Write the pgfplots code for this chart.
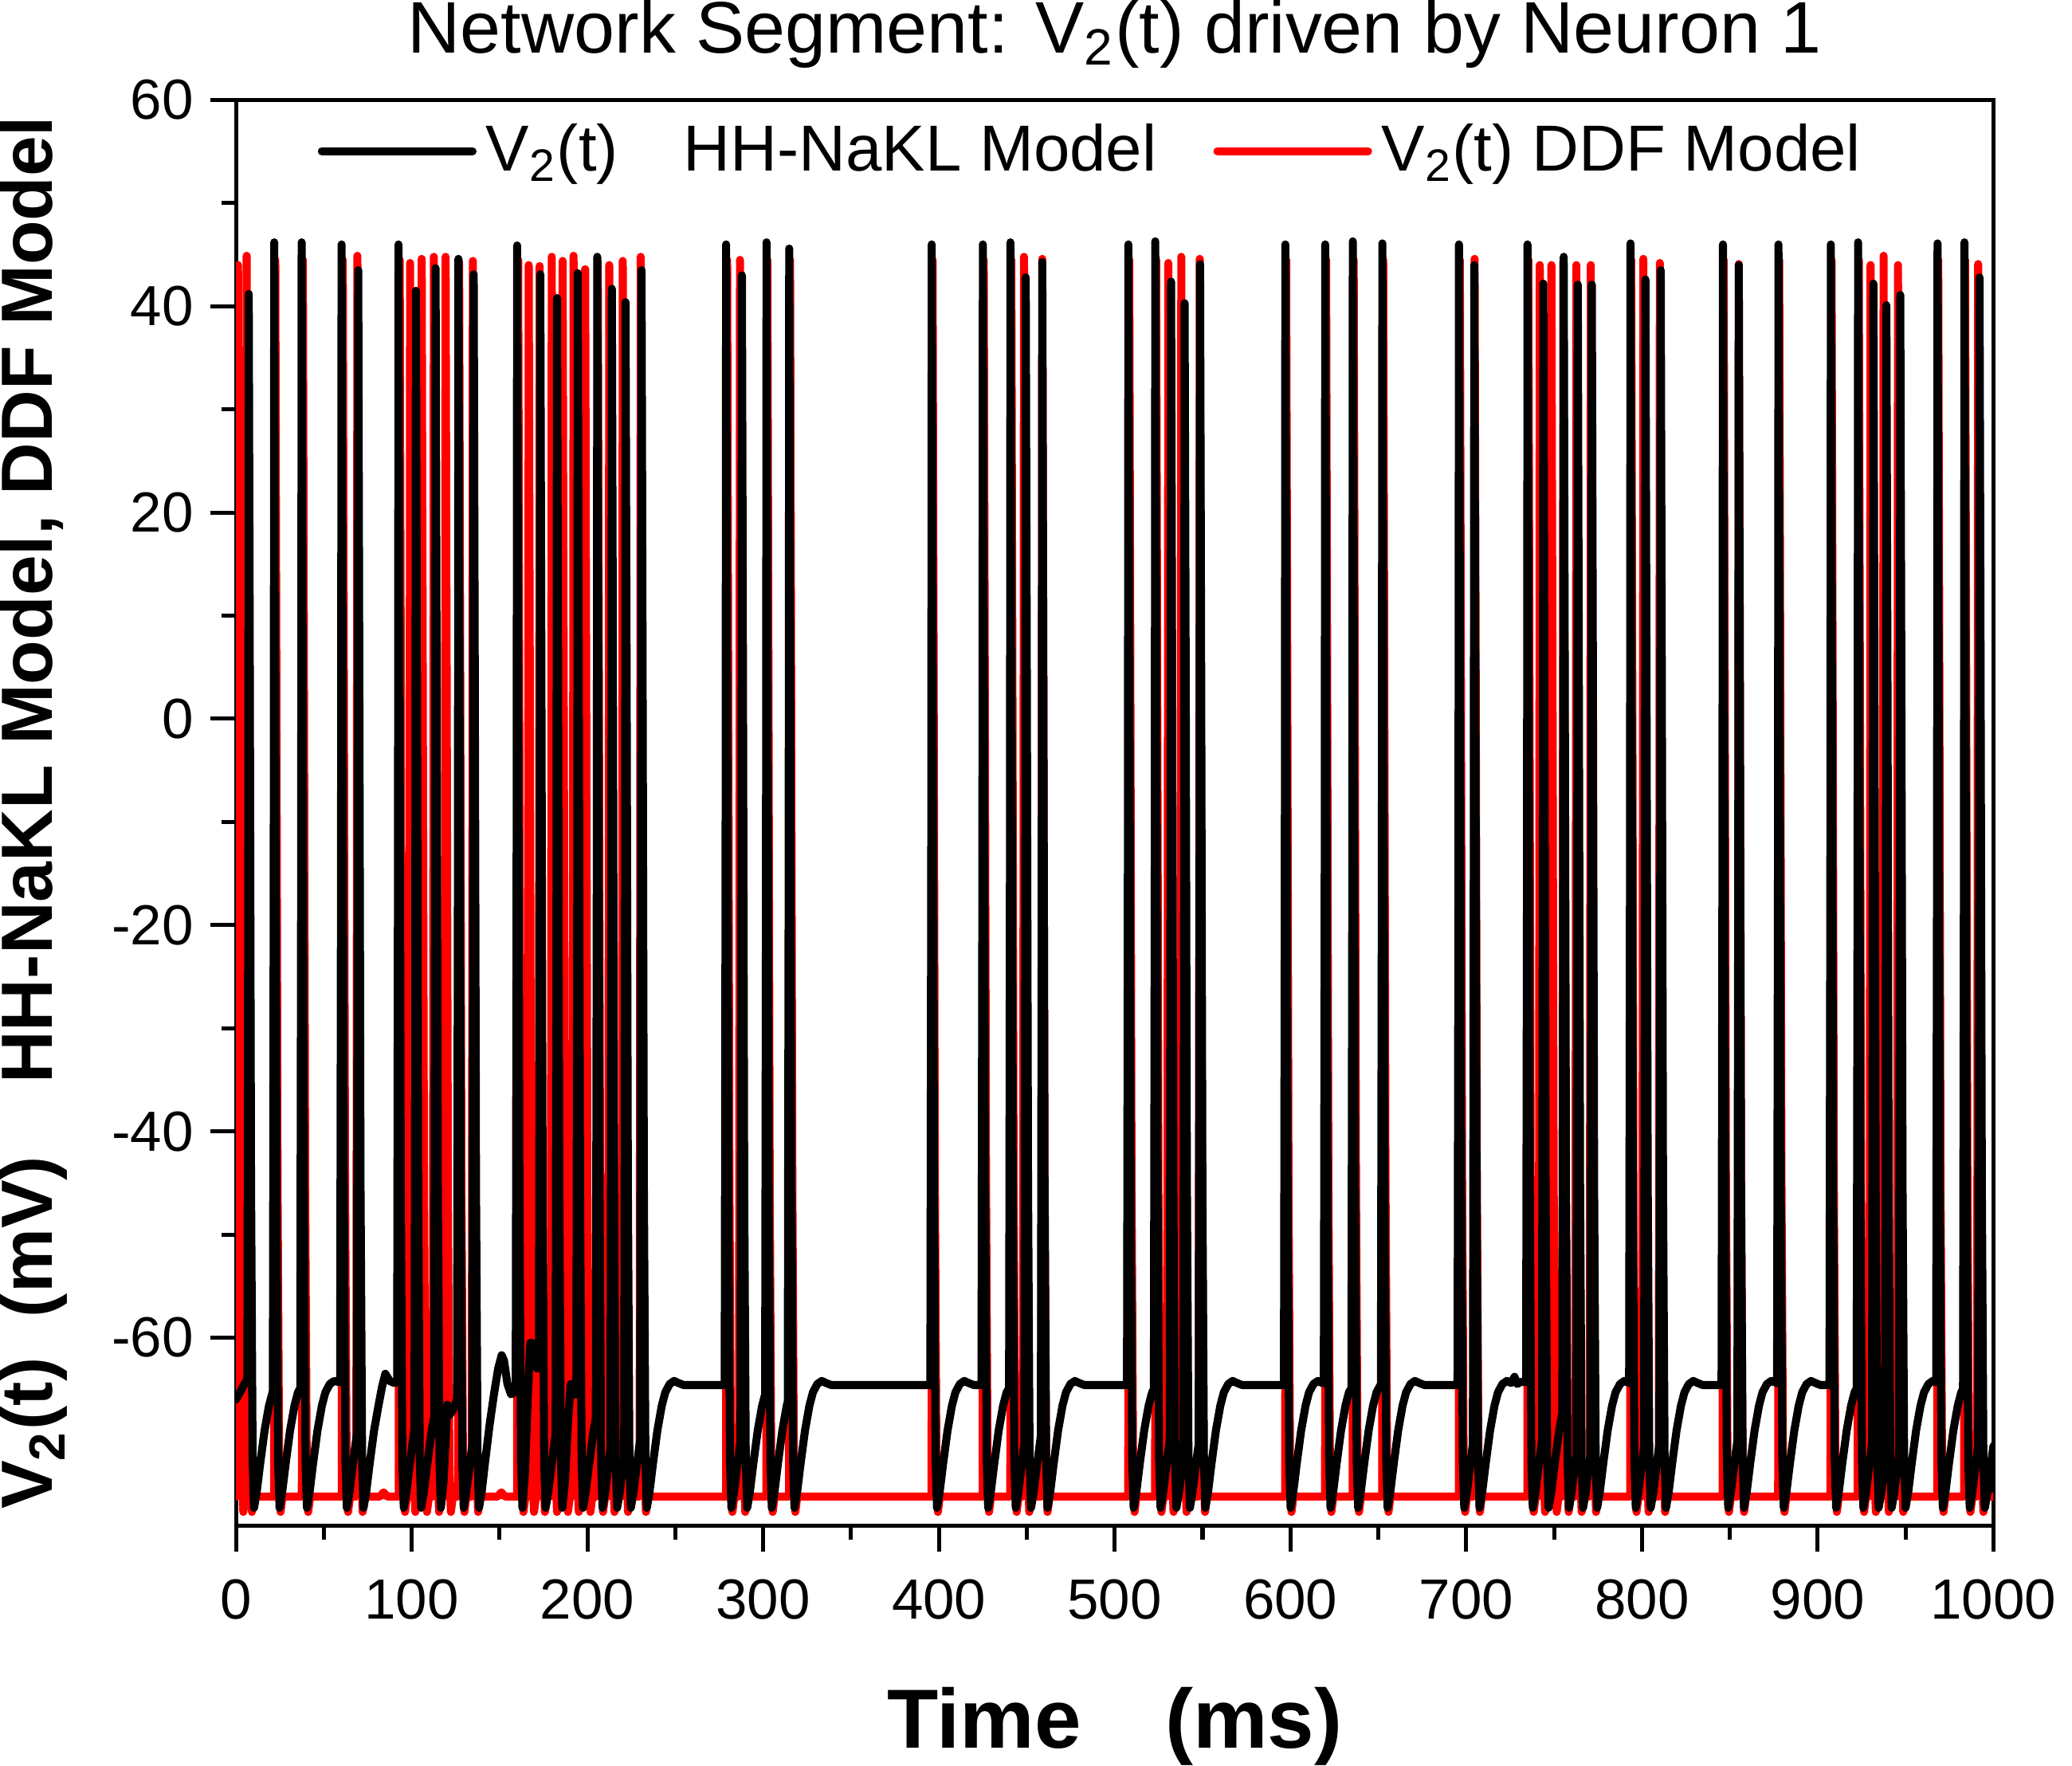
\documentclass[border=0pt]{standalone}
\usepackage{fontspec}
\setmainfont{Liberation Sans}
\usepackage{pgfplots}
\pgfplotsset{compat=1.18}
\begin{document}
\begin{tikzpicture}
\begin{axis}[
  scale only axis, width=373pt, height=302.5pt,
  xmin=0, xmax=1000, ymin=-78.2, ymax=60,
  xtick={0,100,...,1000}, minor x tick num=1,
  ytick={-60,-40,...,60}, minor y tick num=1,
  tick align=outside, xtick pos=bottom, ytick pos=left,
  major tick length=5.5pt, minor tick length=3pt,
  every tick/.style={line width=0.85pt, black},
  axis line style={line width=0.85pt},
  ticklabel style={font=\fontsize{12}{14}\selectfont},
  /pgf/number format/assume math mode=true,
  /pgf/number format/set thousands separator={},
  xticklabel shift=2.5pt,
  title={Network Segment: V\textsubscript{2}(t) driven by Neuron 1},
  title style={font=\fontsize{15.5}{18}\selectfont, at={(axis description cs:0.5,1.0463)}, anchor=center, yshift=-6pt, inner sep=0pt},
  xlabel={\textbf{Time\quad(ms)}},
  xlabel style={font=\fontsize{17.8}{20}\selectfont\bfseries, at={(axis description cs:0.5,-0.141)}, anchor=center, inner sep=0pt},
  ylabel={\textbf{V\textsubscript{2}(t)\ \ (mV)\hspace{1em}HH-NaKL Model, DDF Model}},
  ylabel style={font=\fontsize{15.4}{18}\selectfont\bfseries, at={(axis description cs:-0.115,0.5)}, anchor=center, inner sep=0pt},
  legend style={draw=none, fill=none, at={(axis description cs:0.038,0.997)}, anchor=north west,
     font=\fontsize{13.8}{16}\selectfont, /tikz/every even column/.append style={column sep=10pt}},
  legend columns=2, legend cell align=left,
  legend image code/.code={\draw[#1] (0pt,0pt) -- (32pt,0pt);},
  every axis plot/.append style={line join=round, line cap=round},
]
\addlegendimage{black, line width=1.7pt}
\addlegendentry{V\textsubscript{2}(t)\quad HH-NaKL Model}
\addlegendimage{red, line width=1.7pt}
\addlegendentry{V\textsubscript{2}(t) DDF Model}

% DDF model (red)
\addplot[red, line width=1.7pt, forget plot] coordinates {
(0,-75.4)(0.6,-75.4)(0.9,-20)(1.2,44)(1.8,5)(2.5,-45)(3.4,-73)(4.2,-76.9)(4.8,-75.8)(5.5,-75.4)
(5.8,-20)(6.1,44.9)(6.7,5)(7.4,-45)(8.3,-73)(9.1,-76.9)(9.9,-75.8)(10.7,-75.4)
(21.8,-75.4)(22.1,-20)(22.4,44.5)(23,5)(23.7,-45)(24.6,-73)(25.4,-76.9)(26.2,-75.8)(27,-75.4)
(37.5,-75.4)(37.8,-20)(38.1,44.5)(38.7,5)(39.4,-45)(40.3,-73)(41.1,-76.9)(41.9,-75.8)(42.7,-75.4)
(60.2,-75.4)(60.5,-20)(60.8,44.5)(61.4,5)(62.1,-45)(63,-73)(63.8,-76.9)(64.6,-75.8)(65.4,-75.4)
(68.5,-75.4)(68.8,-20)(69.1,44.9)(69.7,5)(70.4,-45)(71.3,-73)(72.1,-76.9)(72.9,-75.8)(73.7,-75.4)
(82,-75.4)(84,-75.0)(86,-75.4)
(92.6,-75.4)(92.9,-20)(93.2,44.5)(93.8,5)(94.5,-45)(95.4,-73)(96.2,-76.9)(97,-75.8)(97.8,-75.4)
(98.5,-75.4)(98.8,-20)(99.1,44.2)(99.7,5)(100.4,-45)(101.3,-73)(102.1,-76.9)(102.9,-75.8)(103.7,-75.4)(105.1,-75.4)
(105.4,-20)(105.7,44.6)(106.3,5)(107,-45)(107.9,-73)(108.7,-76.9)(109.5,-75.8)(110.3,-75.4)
(112,-75.4)(112.3,-20)(112.6,44.8)(113.2,5)(113.9,-45)(114.8,-73)(115.6,-76.9)(116.4,-75.8)(117.2,-75.4)
(118.7,-75.4)(119,-20)(119.3,44.8)(119.9,5)(120.6,-45)(121.5,-73)(122.3,-76.9)(123.1,-75.8)(123.9,-75.4)
(126.4,-75.4)(126.7,-20)(127,44.3)(127.6,5)(128.3,-45)(129.2,-73)(130,-76.9)(130.8,-75.8)(131.6,-75.4)
(134.2,-75.4)(134.5,-20)(134.8,44.4)(135.4,5)(136.1,-45)(137,-73)(137.8,-76.9)(138.6,-75.8)(139.4,-75.4)
(149,-75.4)(151,-75.0)(153,-75.4)
(160,-75.4)(160.3,-20)(160.6,44.5)(161.2,5)(161.9,-45)(162.8,-73)(163.6,-76.9)(164.4,-75.8)(165.2,-75.4)
(166,-75.4)(166.3,-20)(166.6,44)(167.2,5)(167.9,-45)(168.8,-73)(169.6,-76.9)(170.4,-75.8)(171.2,-75.4)
(172.2,-75.4)(172.5,-20)(172.8,43.9)(173.4,5)(174.1,-45)(175,-73)(175.8,-76.9)(176.6,-75.8)(177.4,-75.4)
(179.1,-75.4)(179.4,-20)(179.7,44.8)(180.3,5)(181,-45)(181.9,-73)(182.7,-76.9)(183.5,-75.8)(184.3,-75.4)
(185.3,-75.4)(185.6,-20)(185.9,44.4)(186.5,5)(187.2,-45)(188.1,-73)(188.9,-76.9)(189.7,-75.8)(190.5,-75.4)
(191.5,-75.4)(191.8,-20)(192.1,44.9)(192.7,5)(193.4,-45)(194.3,-73)(195.1,-76.9)(195.9,-75.8)(196.7,-75.4)
(198.1,-75.4)(198.4,-20)(198.7,43.6)(199.3,5)(200,-45)(200.9,-73)(201.7,-76.9)(202.5,-75.8)(203.3,-75.4)
(205.3,-75.4)(205.6,-20)(205.9,44.3)(206.5,5)(207.2,-45)(208.1,-73)(208.9,-76.9)(209.7,-75.8)(210.5,-75.4)
(211.8,-75.4)(212.1,-20)(212.4,44)(213,5)(213.7,-45)(214.6,-73)(215.4,-76.9)(216.2,-75.8)(217,-75.4)
(219.5,-75.4)(219.8,-20)(220.1,44.4)(220.7,5)(221.4,-45)(222.3,-73)(223.1,-76.9)(223.9,-75.8)(224.7,-75.4)
(229.7,-75.4)(230,-20)(230.3,44.8)(230.9,5)(231.6,-45)(232.5,-73)(233.3,-76.9)(234.1,-75.8)(234.9,-75.4)
(278.9,-75.4)(279.2,-20)(279.5,44.5)(280.1,5)(280.8,-45)(281.7,-73)(282.5,-76.9)(283.3,-75.8)(284.1,-75.4)
(286.2,-75.4)(286.5,-20)(286.8,44.5)(287.4,5)(288.1,-45)(289,-73)(289.8,-76.9)(290.6,-75.8)(291.4,-75.4)
(301.8,-75.4)(302.1,-20)(302.4,44.5)(303,5)(303.7,-45)(304.6,-73)(305.4,-76.9)(306.2,-75.8)(307,-75.4)
(314.7,-75.4)(315,-20)(315.3,44.5)(315.9,5)(316.6,-45)(317.5,-73)(318.3,-76.9)(319.1,-75.8)(319.9,-75.4)
(395.8,-75.4)(396.1,-20)(396.4,44.5)(397,5)(397.7,-45)(398.6,-73)(399.4,-76.9)(400.2,-75.8)(401,-75.4)
(424.9,-75.4)(425.2,-20)(425.5,44.5)(426.1,5)(426.8,-45)(427.7,-73)(428.5,-76.9)(429.3,-75.8)(430.1,-75.4)
(440.6,-75.4)(440.9,-20)(441.2,44.5)(441.8,5)(442.5,-45)(443.4,-73)(444.2,-76.9)(445,-75.8)(445.8,-75.4)
(447.8,-75.4)(448.1,-20)(448.4,44.8)(449,5)(449.7,-45)(450.6,-73)(451.4,-76.9)(452.2,-75.8)(453,-75.4)
(458.2,-75.4)(458.5,-20)(458.8,44.6)(459.4,5)(460.1,-45)(461,-73)(461.8,-76.9)(462.6,-75.8)(463.4,-75.4)
(507.7,-75.4)(508,-20)(508.3,44.5)(508.9,5)(509.6,-45)(510.5,-73)(511.3,-76.9)(512.1,-75.8)(512.9,-75.4)
(523,-75.4)(523.3,-20)(523.6,44.5)(524.2,5)(524.9,-45)(525.8,-73)(526.6,-76.9)(527.4,-75.8)(528.2,-75.4)
(529.9,-75.4)(530.2,-20)(530.5,44.2)(531.1,5)(531.8,-45)(532.7,-73)(533.5,-76.9)(534.3,-75.8)(535.1,-75.4)
(537.3,-75.4)(537.6,-20)(537.9,44.8)(538.5,5)(539.2,-45)(540.1,-73)(540.9,-76.9)(541.7,-75.8)(542.5,-75.4)
(547.8,-75.4)(548.1,-20)(548.4,44.6)(549,5)(549.7,-45)(550.6,-73)(551.4,-76.9)(552.2,-75.8)(553,-75.4)
(597,-75.4)(597.3,-20)(597.6,44.5)(598.2,5)(598.9,-45)(599.8,-73)(600.6,-76.9)(601.4,-75.8)(602.2,-75.4)
(619.7,-75.4)(620,-20)(620.3,44.5)(620.9,5)(621.6,-45)(622.5,-73)(623.3,-76.9)(624.1,-75.8)(624.9,-75.4)
(635.4,-75.4)(635.7,-20)(636,44.5)(636.6,5)(637.3,-45)(638.2,-73)(639,-76.9)(639.8,-75.8)(640.6,-75.4)
(652.2,-75.4)(652.5,-20)(652.8,44.5)(653.4,5)(654.1,-45)(655,-73)(655.8,-76.9)(656.6,-75.8)(657.4,-75.4)
(695.8,-75.4)(696.1,-20)(696.4,44.5)(697,5)(697.7,-45)(698.6,-73)(699.4,-76.9)(700.2,-75.8)(701,-75.4)
(704.2,-75.4)(704.5,-20)(704.8,44.6)(705.4,5)(706.1,-45)(707,-73)(707.8,-76.9)(708.6,-75.8)(709.4,-75.4)
(734.8,-75.4)(735.1,-20)(735.4,44.5)(736,5)(736.7,-45)(737.6,-73)(738.4,-76.9)(739.2,-75.8)(740,-75.4)
(741.3,-75.4)(741.6,-20)(741.9,44)(742.5,5)(743.2,-45)(744.1,-73)(744.9,-76.9)(745.7,-75.8)(746.5,-75.4)
(747.9,-75.4)(748.2,-20)(748.5,44)(749.1,5)(749.8,-45)(750.7,-73)(751.5,-76.9)(752.3,-75.8)(753.1,-75.4)
(754.7,-75.4)(755,-20)(755.3,44.3)(755.9,5)(756.6,-45)(757.5,-73)(758.3,-76.9)(759.1,-75.8)(759.9,-75.4)
(762.1,-75.4)(762.4,-20)(762.7,44)(763.3,5)(764,-45)(764.9,-73)(765.7,-76.9)(766.5,-75.8)(767.3,-75.4)
(770.3,-75.4)(770.6,-20)(770.9,44)(771.5,5)(772.2,-45)(773.1,-73)(773.9,-76.9)(774.7,-75.8)(775.5,-75.4)
(793.3,-75.4)(793.6,-20)(793.9,44.5)(794.5,5)(795.2,-45)(796.1,-73)(796.9,-76.9)(797.7,-75.8)(798.5,-75.4)
(800.2,-75.4)(800.5,-20)(800.8,44.6)(801.4,5)(802.1,-45)(803,-73)(803.8,-76.9)(804.6,-75.8)(805.4,-75.4)
(809.6,-75.4)(809.9,-20)(810.2,44.2)(810.8,5)(811.5,-45)(812.4,-73)(813.2,-76.9)(814,-75.8)(814.8,-75.4)
(845.9,-75.4)(846.2,-20)(846.5,44.5)(847.1,5)(847.8,-45)(848.7,-73)(849.5,-76.9)(850.3,-75.8)(851.1,-75.4)
(854.5,-75.4)(854.8,-20)(855.1,44.1)(855.7,5)(856.4,-45)(857.3,-73)(858.1,-76.9)(858.9,-75.8)(859.7,-75.4)
(877.5,-75.4)(877.8,-20)(878.1,44.5)(878.7,5)(879.4,-45)(880.3,-73)(881.1,-76.9)(881.9,-75.8)(882.7,-75.4)
(907.3,-75.4)(907.6,-20)(907.9,44.5)(908.5,5)(909.2,-45)(910.1,-73)(910.9,-76.9)(911.7,-75.8)(912.5,-75.4)
(922.8,-75.4)(923.1,-20)(923.4,44.5)(924,5)(924.7,-45)(925.6,-73)(926.4,-76.9)(927.2,-75.8)(928,-75.4)
(929.5,-75.4)(929.8,-20)(930.1,44)(930.7,5)(931.4,-45)(932.3,-73)(933.1,-76.9)(933.9,-75.8)(934.7,-75.4)
(936.9,-75.4)(937.2,-20)(937.5,44.9)(938.1,5)(938.8,-45)(939.7,-73)(940.5,-76.9)(941.3,-75.8)(942.1,-75.4)
(945.1,-75.4)(945.4,-20)(945.7,44)(946.3,5)(947,-45)(947.9,-73)(948.7,-76.9)(949.5,-75.8)(950.3,-75.4)
(968,-75.4)(968.3,-20)(968.6,44.5)(969.2,5)(969.9,-45)(970.8,-73)(971.6,-76.9)(972.4,-75.8)(973.2,-75.4)
(983.3,-75.4)(983.6,-20)(983.9,44.5)(984.5,5)(985.2,-45)(986.1,-73)(986.9,-76.9)(987.7,-75.8)(988.5,-75.4)
(990.7,-75.4)(991,-20)(991.3,44.1)(991.9,5)(992.6,-45)(993.5,-73)(994.3,-76.9)(995.1,-75.8)(995.9,-75.4)
(1000,-75.4)
};

% HH-NaKL model (black)
\addplot[black, line width=1.7pt, forget plot] coordinates {
(0,-66)(6.5,-64)
(7.0,-15)(7.3,41.2)(7.9,5)(8.6,-45)(9.5,-72)(10.3,-76.5)
(11.8,-75)(13.8,-72.2)(16.3,-69)(18.8,-66.6)(21.0,-65.2)
(21.5,-15)(21.8,46.2)(22.4,5)(23.1,-45)(24.0,-72)(24.8,-76.5)
(26.3,-75)(28.3,-72.2)(30.8,-69)(33.3,-66.6)(35.3,-65.3)(36.6,-64.9)
(37.1,-15)(37.4,46.2)(38.0,5)(38.7,-45)(39.6,-72)(40.4,-76.5)
(41.9,-75)(43.9,-72.2)(46.4,-69)(48.9,-66.6)(50.9,-65.3)(53.4,-64.5)(55.9,-64.2)(58.4,-64.3)(59.3,-64.3)
(59.8,-15)(60.1,46)(60.7,5)(61.4,-45)(62.3,-72)(63.1,-76.5)
(64.6,-75)(66.6,-72.2)(68.8,-69.3)
(69.3,-15)(69.6,43.5)(70.2,5)(70.9,-45)(71.8,-72)(72.6,-76.5)
(74.1,-75)(76.1,-72.2)(78.6,-69)(81.1,-66.6)(83.1,-64.8)(85,-63.5)(87.5,-64.2)(90,-64.4)(91.7,-64.3)
(92.2,-15)(92.5,46)(93.1,5)(93.8,-45)(94.7,-72)(95.5,-76.5)
(97,-75)(99,-72.2)(101.6,-68.8)
(102.1,-15)(102.4,41.5)(103,5)(103.7,-45)(104.6,-72)(105.4,-76.5)
(106.9,-75)(108.9,-72.2)(111.4,-69)(112.8,-67.7)
(113.3,-15)(113.6,43.7)(114.2,5)(114.9,-45)(115.8,-72)(116.6,-76.5)
(118.1,-74)(120.3,-66.5)(121.5,-67.5)(123.5,-67)(125.8,-66)
(126.3,-15)(126.6,44.6)(127.2,5)(127.9,-45)(128.8,-72)(129.6,-76.5)
(131.1,-75)(133.1,-72.2)(134.5,-70.3)
(135.0,-15)(135.3,43.1)(135.9,5)(136.6,-45)(137.5,-72)(138.3,-76.5)
(139.8,-75)(141.8,-72)(144.3,-68.5)(146.8,-65.5)(149.2,-63)(151.2,-61.7)(152.5,-62.2)(154.5,-64.5)(156.5,-65.5)(158.5,-65.3)(159.2,-65)
(159.7,-15)(160,45.9)(160.6,5)(161.3,-45)(162.2,-72)(163.0,-76.5)
(164.5,-73)(166,-66)(167.5,-60.5)(168.5,-60.5)(170,-62.5)(171.5,-63)(172.4,-62.5)
(172.9,-15)(173.2,43.1)(173.8,5)(174.5,-45)(175.4,-72)(176.2,-76.5)
(177.7,-75)(179.7,-72.2)(181.9,-69.3)
(182.4,-15)(182.7,40.8)(183.3,5)(184,-45)(184.9,-72)(185.7,-76.5)
(187.2,-74)(189,-68)(190.5,-64.5)(192,-65.5)(193.7,-65.5)
(194.2,-15)(194.5,43.2)(195.1,5)(195.8,-45)(196.7,-72)(197.5,-76.5)
(199,-75)(201,-72.2)(203.5,-69)(204.8,-67.8)
(205.3,-15)(205.6,44.8)(206.2,5)(206.9,-45)(207.8,-72)(208.6,-76.5)
(210.1,-75)(212.1,-72.2)(213.1,-70.9)
(213.6,-15)(213.9,41.7)(214.5,5)(215.2,-45)(216.1,-72)(216.9,-76.5)
(218.4,-75)(220.4,-72.2)(220.9,-71.6)
(221.4,-15)(221.7,40.4)(222.3,5)(223,-45)(223.9,-72)(224.7,-76.5)
(226.2,-75)(228.2,-72.2)(230,-69.9)
(230.5,-15)(230.8,43.5)(231.4,5)(232.1,-45)(233,-72)(233.8,-76.5)
(235.3,-75)(237.3,-72.2)(239.8,-69)(242.3,-66.6)(244.3,-65.3)(246.8,-64.5)(249.3,-64.2)(251.8,-64.4)(254.8,-64.6)(278.1,-64.6)
(278.6,-15)(278.9,46)(279.5,5)(280.2,-45)(281.1,-72)(281.9,-76.5)
(283.4,-75)(285.4,-72.2)(287.1,-70)
(287.6,-15)(287.9,43)(288.5,5)(289.2,-45)(290.1,-72)(290.9,-76.5)
(292.4,-75)(294.4,-72.2)(296.9,-69)(299.4,-66.6)(301.1,-65.5)
(301.6,-15)(301.9,46.2)(302.5,5)(303.2,-45)(304.1,-72)(304.9,-76.5)
(306.4,-75)(308.4,-72.2)(310.9,-69)(313.4,-66.6)(314,-66.2)
(314.5,-15)(314.8,45.6)(315.4,5)(316.1,-45)(317,-72)(317.8,-76.5)
(319.3,-75)(321.3,-72.2)(323.8,-69)(326.3,-66.6)(328.3,-65.3)(330.8,-64.5)(333.3,-64.2)(335.8,-64.4)(338.8,-64.6)(395.1,-64.6)
(395.6,-15)(395.9,46)(396.5,5)(397.2,-45)(398.1,-72)(398.9,-76.5)
(400.4,-75)(402.4,-72.2)(404.9,-69)(407.4,-66.6)(409.4,-65.3)(411.9,-64.5)(414.4,-64.2)(416.9,-64.4)(419.9,-64.6)(424.2,-64.6)
(424.7,-15)(425,46)(425.6,5)(426.3,-45)(427.2,-72)(428,-76.5)
(429.5,-75)(431.5,-72.2)(434,-69)(436.5,-66.6)(438.5,-65.3)(439.9,-64.9)
(440.4,-15)(440.7,46.2)(441.3,5)(442,-45)(442.9,-72)(443.7,-76.5)
(445.2,-75)(447.2,-72.2)(448.6,-70.3)
(449.1,-15)(449.4,42.8)(450,5)(450.7,-45)(451.6,-72)(452.4,-76.5)
(453.9,-75)(455.9,-72.2)(458,-69.5)
(458.5,-15)(458.8,44.3)(459.4,5)(460.1,-45)(461,-72)(461.8,-76.5)
(463.3,-75)(465.3,-72.2)(467.8,-69)(470.3,-66.6)(472.3,-65.3)(474.8,-64.5)(477.3,-64.2)(479.8,-64.4)(482.8,-64.6)(507,-64.6)
(507.5,-15)(507.8,46)(508.4,5)(509.1,-45)(510,-72)(510.8,-76.5)
(512.3,-75)(514.3,-72.2)(516.8,-69)(519.3,-66.6)(521.3,-65.3)(522.3,-65)
(522.8,-15)(523.1,46.3)(523.7,5)(524.4,-45)(525.3,-72)(526.1,-76.5)
(527.6,-75)(529.6,-72.2)(531.3,-70)
(531.8,-15)(532.1,42.4)(532.7,5)(533.4,-45)(534.3,-72)(535.1,-76.5)
(536.6,-75)(538.6,-72.2)(539,-71.7)
(539.5,-15)(539.8,40.3)(540.4,5)(541.1,-45)(542,-72)(542.8,-76.5)
(544.3,-75)(546.3,-72.2)(547.8,-70.3)
(548.3,-15)(548.6,44.1)(549.2,5)(549.9,-45)(550.8,-72)(551.6,-76.5)
(553.1,-75)(555.1,-72.2)(557.6,-69)(560.1,-66.6)(562.1,-65.3)(564.6,-64.5)(567.1,-64.2)(569.6,-64.4)(572.6,-64.6)(596.3,-64.6)
(596.8,-15)(597.1,46)(597.7,5)(598.4,-45)(599.3,-72)(600.1,-76.5)
(601.6,-75)(603.6,-72.2)(606.1,-69)(608.6,-66.6)(610.6,-65.3)(613.1,-64.5)(615.6,-64.2)(618.1,-64.4)(619,-64.4)
(619.5,-15)(619.8,46)(620.4,5)(621.1,-45)(622,-72)(622.8,-76.5)
(624.3,-75)(626.3,-72.2)(628.8,-69)(631.3,-66.6)(633.3,-65.3)(634.7,-64.9)
(635.2,-15)(635.5,46.3)(636.1,5)(636.8,-45)(637.7,-72)(638.5,-76.5)
(640,-75)(642,-72.2)(644.5,-69)(647,-66.6)(649,-65.3)(651.5,-64.5)
(652,-15)(652.3,46.1)(652.9,5)(653.6,-45)(654.5,-72)(655.3,-76.5)
(656.8,-75)(658.8,-72.2)(661.3,-69)(663.8,-66.6)(665.8,-65.3)(668.3,-64.5)(670.8,-64.2)(673.3,-64.4)(676.3,-64.6)(695.1,-64.6)
(695.6,-15)(695.9,46)(696.5,5)(697.2,-45)(698.1,-72)(698.9,-76.5)
(700.4,-75)(702.4,-72.2)(703.8,-70.3)
(704.3,-15)(704.6,44)(705.2,5)(705.9,-45)(706.8,-72)(707.6,-76.5)
(709.1,-75)(711.1,-72.2)(713.6,-69)(716.1,-66.6)(718.1,-65.3)(720.6,-64.5)(723.1,-64.2)(725.6,-64.4)(727.5,-63.8)(729,-64.5)(731,-64.3)(734.1,-64.3)
(734.6,-15)(734.9,46)(735.5,5)(736.2,-45)(737.1,-72)(737.9,-76.5)
(739.4,-75)(741.4,-72.2)(743.1,-70)
(743.6,-15)(743.9,42.2)(744.5,5)(745.2,-45)(746.1,-72)(746.9,-76.5)
(748.4,-75)(750.4,-72.2)(752.9,-69)(754.7,-67.3)
(755.2,-15)(755.5,44.8)(756.1,5)(756.8,-45)(757.7,-72)(758.5,-76.5)
(760,-75)(762,-72.2)(762.7,-71.4)
(763.2,-15)(763.5,42.1)(764.1,5)(764.8,-45)(765.7,-72)(766.5,-76.5)
(768,-75)(770,-72.2)(770.7,-71.4)
(771.2,-15)(771.5,42.1)(772.1,5)(772.8,-45)(773.7,-72)(774.5,-76.5)
(776,-75)(778,-72.2)(780.5,-69)(783,-66.6)(785,-65.3)(787.5,-64.5)(790,-64.2)(792.7,-64.4)
(793.2,-15)(793.5,46.1)(794.1,5)(794.8,-45)(795.7,-72)(796.5,-76.5)
(798,-75)(800,-72.2)(801.2,-70.6)
(801.7,-15)(802,42.6)(802.6,5)(803.3,-45)(804.2,-72)(805,-76.5)
(806.5,-75)(808.5,-72.2)(809.9,-70.3)
(810.4,-15)(810.7,43.5)(811.3,5)(812,-45)(812.9,-72)(813.7,-76.5)
(815.2,-75)(817.2,-72.2)(819.7,-69)(822.2,-66.6)(824.2,-65.3)(826.7,-64.5)(829.2,-64.2)(831.7,-64.4)(834.7,-64.6)(845.3,-64.6)
(845.8,-15)(846.1,46)(846.7,5)(847.4,-45)(848.3,-72)(849.1,-76.5)
(850.6,-75)(852.6,-72.2)(854.3,-70)
(854.8,-15)(855.1,44)(855.7,5)(856.4,-45)(857.3,-72)(858.1,-76.5)
(859.6,-75)(861.6,-72.2)(864.1,-69)(866.6,-66.6)(868.6,-65.3)(871.1,-64.5)(873.6,-64.2)(876.9,-64.4)
(877.4,-15)(877.7,46)(878.3,5)(879,-45)(879.9,-72)(880.7,-76.5)
(882.2,-75)(884.2,-72.2)(886.7,-69)(889.2,-66.6)(891.2,-65.3)(893.7,-64.5)(896.2,-64.2)(898.7,-64.4)(901.7,-64.6)(906.7,-64.6)
(907.2,-15)(907.5,46)(908.1,5)(908.8,-45)(909.7,-72)(910.5,-76.5)
(912,-75)(914,-72.2)(916.5,-69)(919,-66.6)(921,-65.3)(922.2,-64.9)
(922.7,-15)(923,46.2)(923.6,5)(924.3,-45)(925.2,-72)(926,-76.5)
(927.5,-75)(929.5,-72.2)(930.9,-70.3)
(931.4,-15)(931.7,42.2)(932.3,5)(933,-45)(933.9,-72)(934.7,-76.5)
(936.2,-75)(938.3,-72)
(938.8,-15)(939.1,40.1)(939.7,5)(940.4,-45)(941.3,-72)(942.1,-76.5)
(943.6,-75)(945.6,-72.2)(946.2,-71.5)
(946.7,-15)(947,41.1)(947.6,5)(948.3,-45)(949.2,-72)(950,-76.5)
(951.5,-75)(953.5,-72.2)(956,-69)(958.5,-66.6)(960.5,-65.3)(963,-64.5)(965.5,-64.2)(967.4,-64.3)
(967.9,-15)(968.2,46.1)(968.8,5)(969.5,-45)(970.4,-72)(971.2,-76.5)
(972.7,-75)(974.7,-72.2)(977.2,-69)(979.7,-66.6)(981.7,-65.3)(982.7,-65)
(983.2,-15)(983.5,46.2)(984.1,5)(984.8,-45)(985.7,-72)(986.5,-76.5)
(988,-75)(990,-72.2)(991.3,-70.5)
(991.8,-15)(992.1,42.8)(992.7,5)(993.4,-45)(994.3,-72)(995.1,-76.5)
(996.6,-75)(998.6,-72.2)(1000,-70.5)
};
\end{axis}
\end{tikzpicture}
\end{document}
